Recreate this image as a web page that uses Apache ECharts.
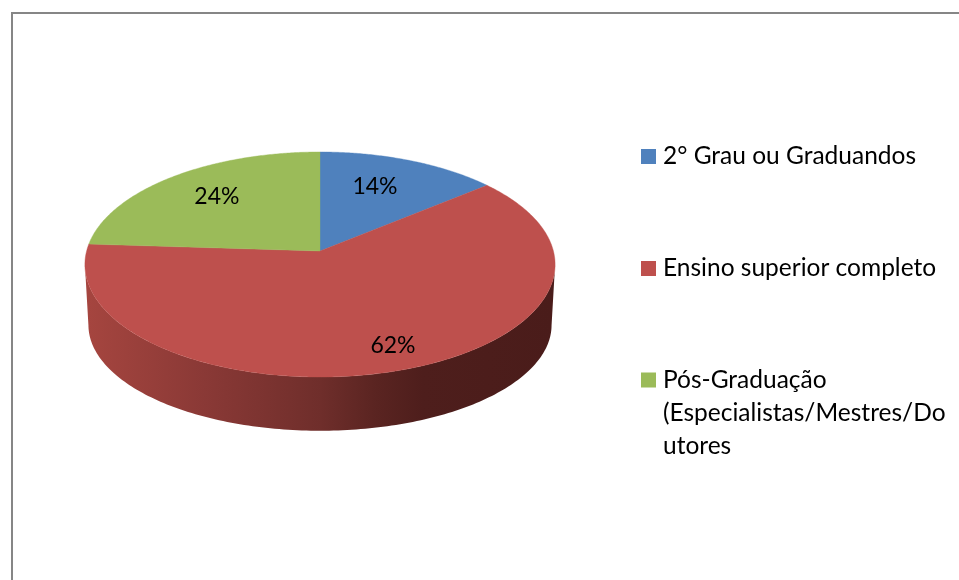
<!DOCTYPE html>
<html><head><meta charset="utf-8">
<style>html,body{margin:0;padding:0;background:#fff}#c{width:959px;height:580px}</style>
<script src="https://cdn.jsdelivr.net/npm/echarts@6/dist/echarts.min.js"></script>
</head><body><div id="c"></div>
<script>
const categories = ["2° Grau ou Graduandos", "Ensino superior completo", "Pós-Graduação\n(Especialistas/Mestres/Do\nutores"];
const seriesValues = [14, 62, 24];
const colors = ["#4F81BD", "#BE504D", "#9BBB59"];
const labelNudges = [[-1, -7.5], [26.5, 26.5], [-12, -8]];

const FONT = 'Lato, "Open Sans", sans-serif';
const total = seriesValues.reduce((a, b) => a + b, 0);
const starts = seriesValues.map((_, i) => seriesValues.slice(0, i).reduce((a, b) => a + b, 0) / total * 360);

// perspective projection of the pie disc onto the page
const CX = 320, CY = 251, RX = 233.4, RY = 110.9, P = 0.12;
function project(deg, r) {
  const a = deg * Math.PI / 180, u = Math.sin(a) * r, v = Math.cos(a) * r, w = 1 + P * v;
  return [CX + RX * u / w, CY - RY * v / w];
}
function lower(pt) {
  return [CX + (pt[0] - CX) * 0.985, 325 + (pt[1] - 264.5) * 0.94];
}
const sideFill = new echarts.graphic.LinearGradient(88, 0, 553, 0, [
  { offset: 0, color: "#A5453F" },
  { offset: 0.25, color: "#8A3936" },
  { offset: 0.5, color: "#6F2E2B" },
  { offset: 0.62, color: "#5A2421" },
  { offset: 0.72, color: "#4E1E1C" },
  { offset: 1, color: "#4A1C1A" }
], true);

function renderItem(params, api) {
  const i = params.seriesIndex, value = api.value(0);
  const a0 = starts[i], a1 = a0 + value / total * 360;
  const children = [];
  // front wall of the disc, between the two silhouette points
  const f0 = Math.max(a0, 97), f1 = Math.min(a1, 263);
  if (f1 > f0) {
    const top = [], bottom = [];
    for (let a = f0; a <= f1; a += 1) top.push(project(a, 1));
    top.forEach(p => bottom.unshift(lower(p)));
    children.push({ type: "polygon", shape: { points: top.concat(bottom) }, style: { fill: sideFill } });
  }
  // top face
  const pts = [project(0, 0)];
  for (let a = a0; a < a1; a += 0.5) pts.push(project(a, 1));
  pts.push(project(a1, 1));
  const color = colors[i];
  children.push({ type: "polygon", shape: { points: pts }, style: { fill: color, stroke: color, lineWidth: 0.4 } });
  // percent label
  const c = project((a0 + a1) / 2, 0.6), n = labelNudges[i];
  children.push({
    type: "text", z2: 10,
    style: { text: value + "%", x: c[0] + n[0], y: c[1] + n[1], align: "center", verticalAlign: "middle", fill: "#000", font: "23px " + FONT }
  });
  return { type: "group", children };
}

const series = categories.map((name, i) => ({
  type: "custom", name, coordinateSystem: "none", renderItem, clip: false, silent: true,
  itemStyle: { color: colors[i] }, data: [[seriesValues[i]]]
}));
const legendTops = [144, 256, 363.5];
const legends = categories.map((name, i) => {
  const multi = name.indexOf("\n") >= 0;
  return {
    data: [name], left: 641, top: legendTops[i], orient: "vertical", padding: 0, selectedMode: false,
    itemWidth: 17, itemHeight: multi ? 99 : 15,
    icon: multi ? "path://M0 0ZM0 9H15V24H0ZM17 99Z" : "path://M0 0H15V15H0ZM17 15Z",
    textStyle: { fontFamily: FONT, fontSize: 24.5, color: "#000", lineHeight: multi ? 33 : 15 }
  };
});

const chart = echarts.init(document.getElementById("c"), null, { renderer: "canvas" });
chart.setOption({
  animation: false, backgroundColor: "#fff", color: colors,
  legend: legends, series,
  graphic: [
    { type: "rect", shape: { x: 11, y: 12, width: 948, height: 2 }, style: { fill: "#868686" }, silent: true },
    { type: "rect", shape: { x: 11, y: 12, width: 2, height: 568 }, style: { fill: "#868686" }, silent: true }
  ]
});
</script></body></html>
